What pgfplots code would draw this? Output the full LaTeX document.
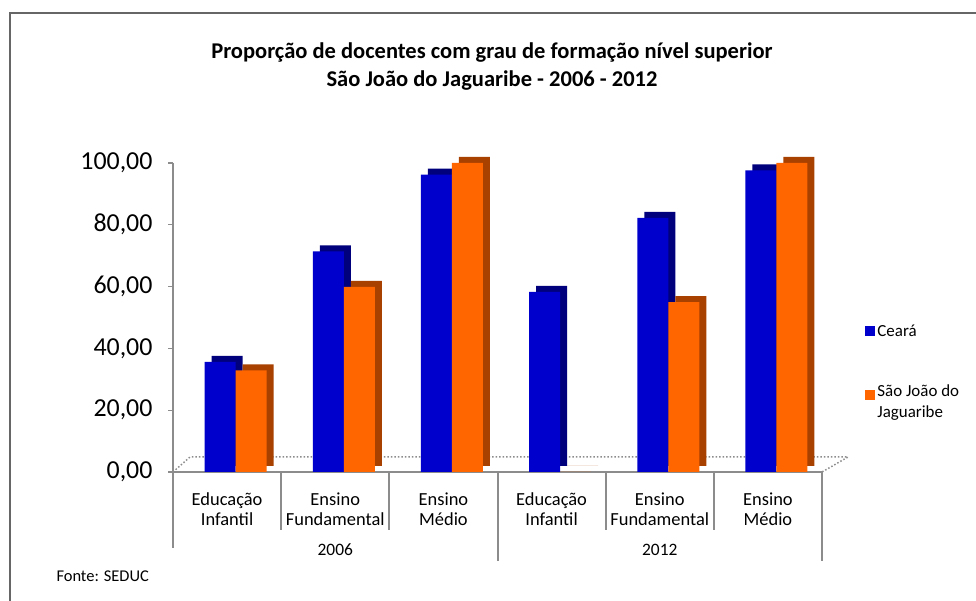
\documentclass[border=0pt]{standalone}
\usepackage{pgfplots}
\pgfplotsset{compat=1.18}
\usepackage{pgfplotstable}
\usepackage{fontspec}
\setmainfont{Carlito}
\definecolor{cblue}{RGB}{0,0,204}
\definecolor{cbluedk}{RGB}{0,0,125}
\definecolor{corange}{RGB}{255,102,0}
\definecolor{corangedk}{RGB}{168,64,0}
\definecolor{axgray}{RGB}{140,140,140}
\pgfplotstableread{
x ceara sj
0 35.6 32.9
1 71.4 59.9
2 96.2 100
3 58.3 0
4 82.2 55.0
5 97.6 100
}\datatab
\begin{document}
\begin{tikzpicture}[x=1bp,y=1bp]
\fill[white] (0,0) rectangle (976,601);
\draw[line width=1.5bp, black!60] (10,-5) -- (10,588) -- (990,588);
\node[font=\fontsize{22.6}{26}\selectfont\bfseries] at (492,548) {Proporção de docentes com grau de formação nível superior};
\node[font=\fontsize{22.6}{26}\selectfont\bfseries] at (492,520) {São João do Jaguaribe - 2006 - 2012};
\node[font=\fontsize{16.5}{19}\selectfont, anchor=west] at (53,25) {Fonte: SEDUC};
\begin{axis}[
  at={(173bp,129bp)}, anchor=south west,
  scale only axis, width=649bp, height=309bp,
  xmin=-0.5, xmax=5.5, ymin=0, ymax=100,
  clip=false,
  axis x line=bottom, axis y line=left,
  axis line style={-, axgray, line width=1.5bp},
  tick align=outside,
  major tick length=5bp,
  every tick/.style={axgray, line width=1.2bp},
  xtick={0,...,5},
  major x tick style={draw=none},
  xticklabels={{Educação\\Infantil},{Ensino\\Fundamental},{Ensino\\Médio},{Educação\\Infantil},{Ensino\\Fundamental},{Ensino\\Médio}},
  xticklabel style={font=\fontsize{18.5}{20}\selectfont, align=center, yshift=-12bp},
  ytick={0,20,...,100},
  yticklabel style={font=\fontsize{26}{26}\selectfont, xshift=-12bp},
  /pgf/number format/.cd, fixed, fixed zerofill, precision=2, use comma, assume math mode=true,
  /pgfplots/.cd,
  ybar, bar width=31bp,
  legend style={draw=none, fill=none, at={(1.062,0.49)}, anchor=north west,
    font=\fontsize{17}{21}\selectfont, row sep=40bp, cells={anchor=west}},
  legend cell align=left,
  legend image code/.code={\fill[#1] (0bp,-5bp) rectangle (10bp,5bp);},
]
\draw[axgray, dotted, line width=1.5bp] (axis cs:-0.5,0) -- ++(17bp,15bp) -- ([shift={(26bp,15bp)}]axis cs:5.5,0) -- (axis cs:5.5,0);
% shadows (3D depth)
\addplot[fill=cbluedk, draw=none, bar shift=0bp, yshift=6bp, forget plot] table[x=x,y=ceara]{\datatab};
\addplot[fill=corangedk, draw=none, bar shift=31bp, yshift=6bp, forget plot] table[x=x,y=sj]{\datatab};
% front faces
\addplot[fill=cblue, draw=none, bar shift=-7bp] table[x=x,y=ceara]{\datatab};
\addlegendentry{Ceará}
\addplot[fill=corange, draw=none, bar shift=24bp] table[x=x,y=sj]{\datatab};
\addlegendentry{\begin{tabular}{@{}l@{}}São João do\\Jaguaribe\end{tabular}}
% category separators
\pgfplotsinvokeforeach{0.5,1.5,3.5,4.5}{\draw[axgray, line width=2bp] (axis cs:#1,0) -- ++(0pt,-58bp);}
\draw[axgray, line width=2bp] (axis cs:-0.5,0) -- ++(0pt,-76bp);
\draw[axgray, line width=2bp] (axis cs:2.5,0) -- ++(0pt,-89bp);
\draw[axgray, line width=2bp] (axis cs:5.5,0) -- ++(0pt,-89bp);
\node[font=\fontsize{17.5}{20}\selectfont] at ([yshift=-78bp]axis cs:1,0) {2006};
\node[font=\fontsize{17.5}{20}\selectfont] at ([yshift=-78bp]axis cs:4,0) {2012};
\end{axis}
\pgfresetboundingbox
\useasboundingbox (0,0) rectangle (976,601);
\end{tikzpicture}
\end{document}
